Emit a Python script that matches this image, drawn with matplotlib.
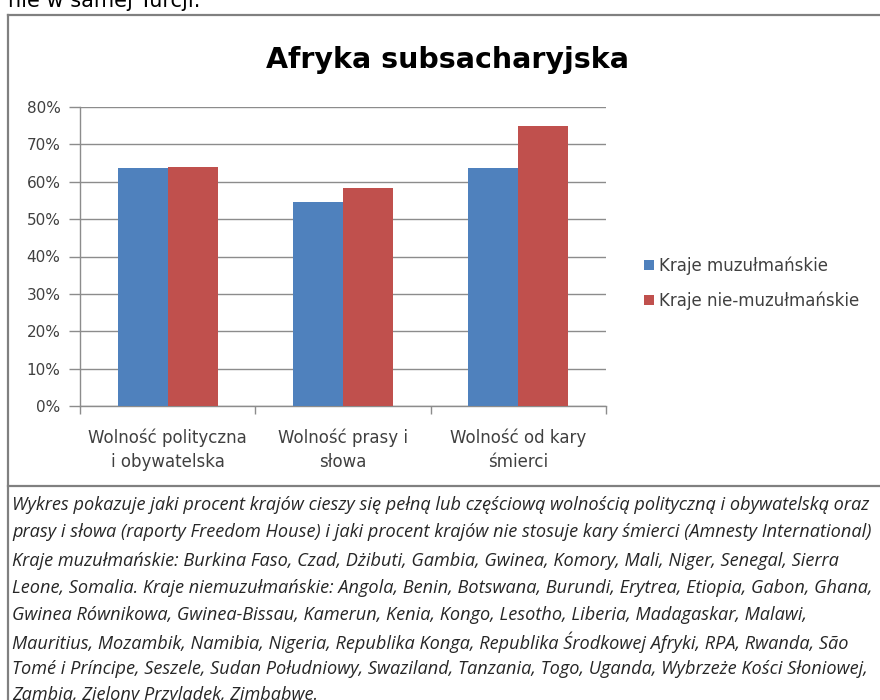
import numpy as np
import matplotlib.pyplot as plt
from matplotlib.lines import Line2D
from matplotlib.ticker import FuncFormatter, MultipleLocator

categories = ['Wolność polityczna\ni obywatelska', 'Wolność prasy i\nsłowa', 'Wolność od kary\nśmierci']
series_names = ['Kraje muzułmańskie', 'Kraje nie-muzułmańskie']
muslim = [63.6, 54.5, 63.6]
non_muslim = [63.9, 58.3, 75.0]

caption = [
    'Wykres pokazuje jaki procent krajów cieszy się pełną lub częściową wolnością polityczną i obywatelską oraz',
    'prasy i słowa (raporty Freedom House) i jaki procent krajów nie stosuje kary śmierci (Amnesty International)',
    'Kraje muzułmańskie: Burkina Faso, Czad, Dżibuti, Gambia, Gwinea, Komory, Mali, Niger, Senegal, Sierra',
    'Leone, Somalia. Kraje niemuzułmańskie: Angola, Benin, Botswana, Burundi, Erytrea, Etiopia, Gabon, Ghana,',
    'Gwinea Równikowa, Gwinea-Bissau, Kamerun, Kenia, Kongo, Lesotho, Liberia, Madagaskar, Malawi,',
    'Mauritius, Mozambik, Namibia, Nigeria, Republika Konga, Republika Środkowej Afryki, RPA, Rwanda, São',
    'Tomé i Príncipe, Seszele, Sudan Południowy, Swaziland, Tanzania, Togo, Uganda, Wybrzeże Kości Słoniowej,',
    'Zambia, Zielony Przylądek, Zimbabwe.',
]
caption_y = [505, 532, 561, 588, 615, 642, 669, 695]

W, H = 880, 700
BLUE = '#4F81BD'
RED = '#C0504D'
GRID = '#8c8c8c'
TXT = '#404040'


def px(x, y):
    # pixel position (from top-left) -> figure fraction
    return x / W, 1 - y / H


fig = plt.figure(figsize=(W / 100, H / 100), dpi=100)
fig.patch.set_facecolor('white')

# text running above the chart box, cut off at the top edge
fig.text(*px(8, 7), 'nie w samej Turcji.', fontsize=15, color='black',
         ha='left', va='baseline', family='DejaVu Sans')

# box frame and separator above the caption
for xs, ys in [((8, 880), (15, 15)), ((8, 8), (15, 700)), ((8, 880), (486, 486))]:
    x0, y0 = px(xs[0], ys[0])
    x1, y1 = px(xs[1], ys[1])
    fig.add_artist(Line2D([x0, x1], [y0, y1], color='#808080', lw=1.6,
                          transform=fig.transFigure))

left, right, top, bottom = 80, 606, 107, 406
l, b = px(left, bottom)
ax = fig.add_axes([l, b, (right - left) / W, (bottom - top) / H])

x = np.arange(len(categories))
width = 1 / 3.5
ax.bar(x - width / 2, muslim, width, color=BLUE, label=series_names[0], zorder=3)
ax.bar(x + width / 2, non_muslim, width, color=RED, label=series_names[1], zorder=3)

ax.set_xlim(-0.5, len(categories) - 0.5)
ax.set_ylim(0, 80)
ax.yaxis.set_major_locator(MultipleLocator(10))
ax.yaxis.set_major_formatter(FuncFormatter(lambda v, _: f'{v:.0f}%'))
ax.grid(axis='y', color=GRID, lw=1.0, zorder=0)

ax.set_xticks(x)
ax.set_xticklabels(categories, fontsize=12, color=TXT, linespacing=1.45)
ax.set_xticks(np.arange(-0.5, len(categories)), minor=True)
ax.tick_params(axis='x', which='major', length=0, pad=16)
ax.tick_params(axis='x', which='minor', length=6, color=GRID, width=1.0)
ax.tick_params(axis='y', length=8, color=GRID, width=1.0, labelsize=11,
               labelcolor=TXT, pad=6)

for side in ['top', 'right']:
    ax.spines[side].set_visible(False)
for side in ['left', 'bottom']:
    ax.spines[side].set_color(GRID)
    ax.spines[side].set_linewidth(1.0)

fig.suptitle('Afryka subsacharyjska', x=px(447, 0)[0], y=px(0, 60)[1], va='center',
             fontsize=20.5, fontweight='bold', color='black')

leg = ax.legend(loc='center left', bbox_to_anchor=px(636, 283), bbox_transform=fig.transFigure,
                frameon=False, fontsize=12, handlelength=0.55, handleheight=0.55,
                handletextpad=0.3, labelspacing=1.0, borderpad=0)
for t in leg.get_texts():
    t.set_color(TXT)

# caption lines, font size chosen so the first line fills the box width
renderer = fig.canvas.get_renderer()
probe = fig.text(0, 0, caption[0], fontsize=10, style='italic', family='Open Sans')
w10 = probe.get_window_extent(renderer).width
probe.remove()
cap_size = 10 * 856 / w10
for line, yy in zip(caption, caption_y):
    fig.text(*px(12, yy), line, fontsize=cap_size, style='italic', family='Open Sans',
             color='#262626', ha='left', va='center')

fig.savefig('out.png', dpi=100)
